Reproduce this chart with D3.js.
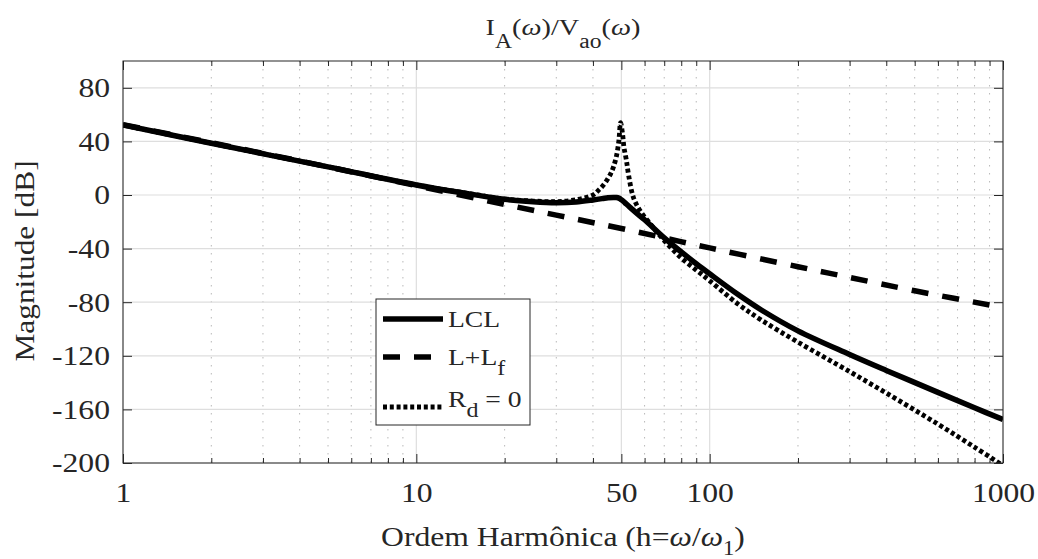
<!DOCTYPE html>
<html>
<head>
<meta charset="utf-8">
<script src="https://cdn.jsdelivr.net/npm/d3@7"></script>
<style>
  body { margin: 0; background: #fff; }
  text { font-family: "Liberation Serif", "Times New Roman", serif; fill: #262626; }
</style>
</head>
<body>
<div id="chart"></div>
<script>
// tick values
const xTicks = [1, 10, 50, 100, 1000];
const xMinor = [2, 3, 4, 5, 6, 7, 8, 9, 20, 30, 40, 60, 70, 80, 90, 200, 300, 400, 500, 600, 700, 800, 900];
const yTicks = [-200, -160, -120, -80, -40, 0, 40, 80];

// LCL (solid)
const lclH  = [1, 2, 5, 10, 15, 20, 25, 30, 35, 40, 43, 45, 47, 48, 49, 50, 51, 52, 54, 57, 60, 70, 80, 90, 100, 125, 150, 200, 300, 400, 600, 800, 1000];
const lclDb = [52.2, 38.6, 21, 7.5, 1, -3.2, -5, -5.7, -5.2, -3.7, -2.7, -2.0, -1.8, -1.9, -2.3, -3.5, -5, -6.8, -10, -14.5, -18.5, -32, -42.5, -51.3, -58.8, -74.3, -85.8, -101.4, -119, -130.9, -147.3, -158.8, -167.6];

// L+Lf (dashed)
const lfH  = [1, 2, 5, 10, 20, 30, 50, 100, 200, 300, 500, 1000];
const lfDb = [52.5, 39, 21, 7, -7, -15, -25, -39.5, -53.5, -61.5, -71.5, -84];

// Rd = 0 (dotted)
const rdH  = [1, 2, 5, 10, 15, 20, 25, 30, 35, 40, 42, 44, 46, 47, 48, 49, 49.7, 50.5, 51, 52, 53, 55, 58, 63, 70, 80, 90, 100, 125, 150, 200, 300, 400, 600, 800, 1000];
const rdDb = [52.2, 38.6, 21, 7.5, 1.2, -3, -4.5, -5, -3.5, 0, 4, 9, 16, 21, 28, 40, 54, 45, 36, 26, 14, -2, -12, -22, -34, -47, -56, -64, -81.4, -93.3, -109.8, -131.8, -147.8, -171, -188.2, -202];

const legendLabels = ["LCL", "L+L", "R"];

const margin = { top: 61, right: 35, bottom: 96, left: 123 },
    svgWidth = 1038,
    svgHeight = 559,
    width = svgWidth - margin.left - margin.right,
    height = svgHeight - margin.top - margin.bottom;

const svg = d3.select("#chart").append("svg")
    .attr("width", svgWidth)
    .attr("height", svgHeight);

const g = svg.append("g")
    .attr("transform", "translate(" + margin.left + "," + margin.top + ")");

const x = d3.scaleLog().domain([1, 1000]).range([0, width]);
const y = d3.scaleLinear().domain([-200, 100]).range([height, 0]);

// the reference font runs wider than Liberation Serif, stretch text along its length
function stretch(sel, k) {
    sel.each(function () {
        const len = this.getComputedTextLength();
        this.setAttribute("textLength", len * k);
        this.setAttribute("lengthAdjust", "spacingAndGlyphs");
    });
}

// grid - minor dotted, major solid
g.selectAll(".minor-grid")
    .data(xMinor)
    .enter().append("line")
    .attr("class", "minor-grid")
    .attr("x1", d => x(d)).attr("x2", d => x(d))
    .attr("y1", 0).attr("y2", height)
    .attr("stroke", "#b8b8b8")
    .attr("stroke-width", 1)
    .attr("stroke-dasharray", "1.5,6.5");

g.selectAll(".xgrid")
    .data(xTicks)
    .enter().append("line")
    .attr("class", "xgrid")
    .attr("x1", d => x(d)).attr("x2", d => x(d))
    .attr("y1", 0).attr("y2", height)
    .attr("stroke", "#dedede")
    .attr("stroke-width", 1.2);

g.selectAll(".ygrid")
    .data(yTicks)
    .enter().append("line")
    .attr("class", "ygrid")
    .attr("x1", 0).attr("x2", width)
    .attr("y1", d => y(d)).attr("y2", d => y(d))
    .attr("stroke", "#dedede")
    .attr("stroke-width", 1.2);

// axes (ticks pointing inward)
function styleAxis(sel) {
    sel.select(".domain").remove();
    sel.selectAll("line").attr("stroke", "#262626");
    sel.selectAll("text")
        .attr("font-family", "Liberation Serif, serif")
        .attr("font-size", 28)
        .attr("fill", "#262626");
}

const xAxisG = g.append("g")
    .attr("transform", "translate(0," + height + ")")
    .call(d3.axisBottom(x).tickValues(xTicks).tickSize(-9).tickPadding(19).tickFormat(d => String(d)))
    .call(styleAxis);
g.append("g")
    .attr("transform", "translate(0," + height + ")")
    .call(d3.axisBottom(x).tickValues(xMinor).tickSize(-5).tickFormat(""))
    .call(styleAxis);
g.append("g")
    .call(d3.axisTop(x).tickValues(xTicks).tickSize(-9).tickFormat(""))
    .call(styleAxis);
g.append("g")
    .call(d3.axisTop(x).tickValues(xMinor).tickSize(-5).tickFormat(""))
    .call(styleAxis);
const yAxisG = g.append("g")
    .call(d3.axisLeft(y).tickValues(yTicks).tickSize(-9).tickPadding(13).tickFormat(d => String(d)))
    .call(styleAxis);
g.append("g")
    .attr("transform", "translate(" + width + ",0)")
    .call(d3.axisRight(y).tickValues(yTicks).tickSize(-9).tickFormat(""))
    .call(styleAxis);

stretch(xAxisG.selectAll("text"), 1.13);
stretch(yAxisG.selectAll("text"), 1.13);

// clip for curves
svg.append("defs").append("clipPath")
    .attr("id", "plot-clip")
    .append("rect")
    .attr("width", width).attr("height", height);

const line = d3.line()
    .x(d => x(d[0]))
    .y(d => y(d[1]))
    .curve(d3.curveCatmullRom.alpha(0.5));

const curves = g.append("g").attr("clip-path", "url(#plot-clip)");

curves.append("path")
    .datum(d3.zip(lfH, lfDb))
    .attr("d", line)
    .attr("fill", "none")
    .attr("stroke", "#000")
    .attr("stroke-width", 5.5)
    .attr("stroke-dasharray", "17,14");

curves.append("path")
    .datum(d3.zip(rdH, rdDb))
    .attr("d", line)
    .attr("fill", "none")
    .attr("stroke", "#000")
    .attr("stroke-width", 4.8)
    .attr("stroke-dasharray", "4,2.8");

curves.append("path")
    .datum(d3.zip(lclH, lclDb))
    .attr("d", line)
    .attr("fill", "none")
    .attr("stroke", "#000")
    .attr("stroke-width", 5.5);

// box
g.append("rect")
    .attr("width", width).attr("height", height)
    .attr("fill", "none")
    .attr("stroke", "#262626")
    .attr("stroke-width", 1);

// title
const title = svg.append("text")
    .attr("x", margin.left + width / 2)
    .attr("y", 35)
    .attr("text-anchor", "middle")
    .attr("font-size", 24);
title.append("tspan").text("I");
title.append("tspan").attr("dy", 13).attr("font-size", 20).text("A");
title.append("tspan").attr("dy", -13).text("(");
title.append("tspan").attr("font-style", "italic").text("ω");
title.append("tspan").text(")/V");
title.append("tspan").attr("dy", 13).attr("font-size", 20).text("ao");
title.append("tspan").attr("dy", -13).text("(");
title.append("tspan").attr("font-style", "italic").text("ω");
title.append("tspan").text(")");
stretch(title, 1.18);

// y label
const yl = svg.append("text")
    .attr("transform", "translate(34," + (margin.top + height / 2 - 1) + ") rotate(-90)")
    .attr("text-anchor", "middle")
    .attr("font-size", 28)
    .text("Magnitude [dB]");
stretch(yl, 1.12);

// x label
const xl = svg.append("text")
    .attr("x", margin.left + width / 2)
    .attr("y", 546)
    .attr("text-anchor", "middle")
    .attr("font-size", 28);
xl.append("tspan").text("Ordem Harmônica (h=");
xl.append("tspan").attr("font-style", "italic").text("ω");
xl.append("tspan").text("/");
xl.append("tspan").attr("font-style", "italic").text("ω");
xl.append("tspan").attr("dy", 9).attr("font-size", 20).text("1");
xl.append("tspan").attr("dy", -9).text(")");
stretch(xl, 1.13);

// legend
const leg = svg.append("g").attr("transform", "translate(376,299)");
leg.append("rect")
    .attr("width", 154).attr("height", 126)
    .attr("fill", "#fff")
    .attr("stroke", "#262626")
    .attr("stroke-width", 1);

const legendRows = [
    { y: 20, dash: null, w: 5.5, label: legendLabels[0], sub: null, ty: 28 },
    { y: 58, dash: "17,14", w: 5.5, label: legendLabels[1], sub: "f", ty: 66 },
    { y: 108, dash: "4,2.8", w: 4.8, label: legendLabels[2], sub: "d", ty: 108, tail: " = 0" }
];

legendRows.forEach(r => {
    leg.append("line")
        .attr("x1", 7).attr("x2", 67)
        .attr("y1", r.y).attr("y2", r.y)
        .attr("stroke", "#000")
        .attr("stroke-width", r.w)
        .attr("stroke-dasharray", r.dash);
    const t = leg.append("text")
        .attr("x", 72).attr("y", r.ty)
        .attr("font-size", 23);
    t.append("tspan").text(r.label);
    if (r.sub) {
        t.append("tspan").attr("dy", 10).attr("font-size", 20).text(r.sub);
    }
    if (r.tail) {
        t.append("tspan").attr("dy", -10).text(r.tail);
    }
    stretch(t, 1.2);
});
</script>
</body>
</html>
